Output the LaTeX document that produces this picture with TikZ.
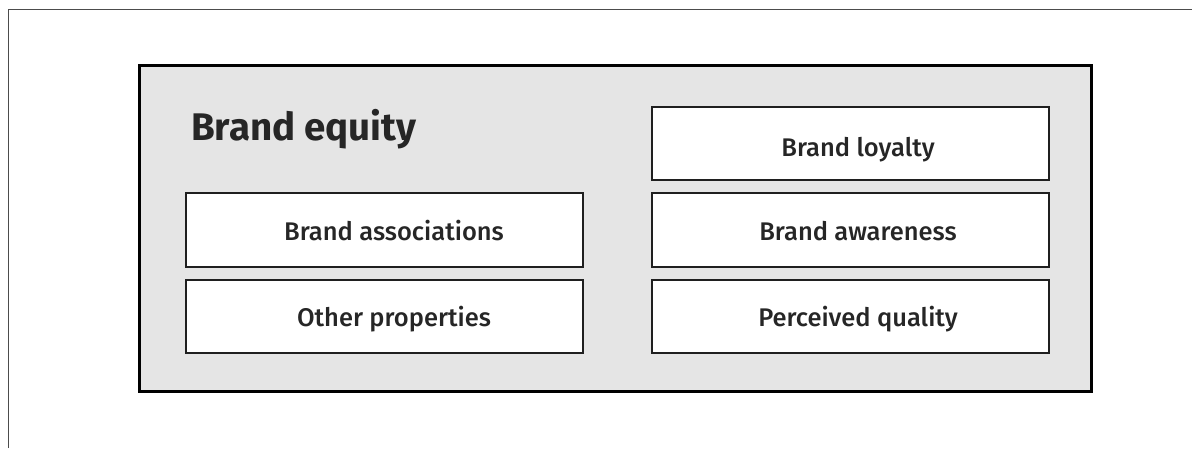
\documentclass[tikz,border=0pt]{standalone}
\usepackage{fontspec}
\setmainfont{Fira Sans}
\newfontfamily\firamed{Fira Sans Medium}
\begin{document}
\begin{tikzpicture}[x=1pt,y=-1pt,
  inbox/.style={draw=black!88,line width=1.6pt,fill=white},
  lbl/.style={font=\firamed\fontsize{25.5}{28}\selectfont,text=black!85,anchor=base}]
\useasboundingbox (0,0) rectangle (1192,448);
\draw[draw=black!70,line width=1.6pt] (8.5,448) -- (8.5,9.5) -- (1192,9.5);
\draw[draw=black,line width=3pt,fill=black!10] (139.5,65.5) rectangle (1091.5,391.5);
\node[font=\bfseries\fontsize{38.5}{42}\selectfont,text=black!85,anchor=base west,inner sep=0pt] (title) at (191,140) {Brand equity};
\draw[inbox] (186,193) rectangle (583,267);
\draw[inbox] (186,280) rectangle (583,353);
\draw[inbox] (652,107) rectangle (1049,180);
\draw[inbox] (652,193) rectangle (1049,267);
\draw[inbox] (652,280) rectangle (1049,353);
\node[lbl] (ba) at (394,240) {Brand associations};
\node[lbl] (op) at (394,326) {Other properties};
\node[lbl] (bl) at (858,156) {Brand loyalty};
\node[lbl] (bw) at (858,240) {Brand awareness};
\node[lbl] (pq) at (858,326) {Perceived quality};
\end{tikzpicture}
\end{document}
